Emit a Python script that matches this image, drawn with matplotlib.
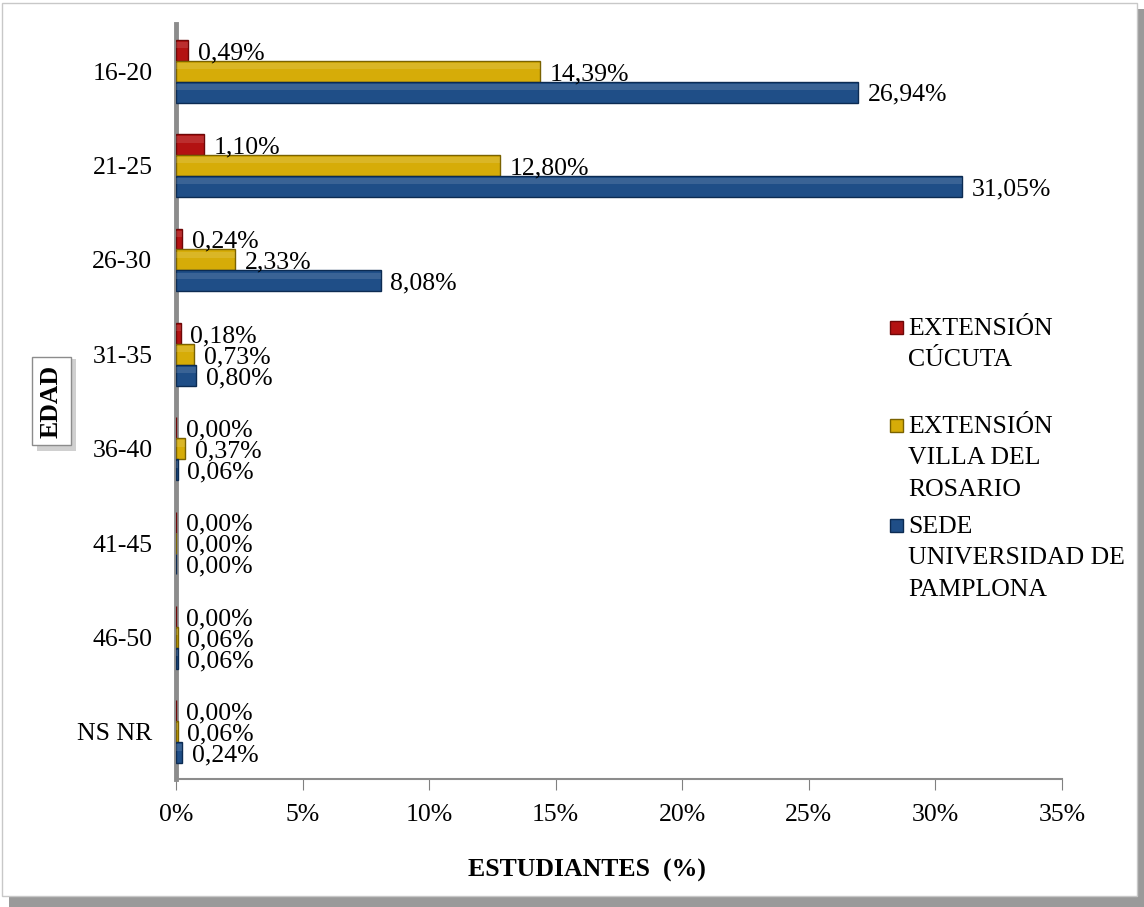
import numpy as np
import matplotlib
matplotlib.use("Agg")
import matplotlib.pyplot as plt
from matplotlib.patches import Rectangle

plt.rcParams['font.family'] = ['Liberation Serif', 'DejaVu Serif']

edades = ["16-20", "21-25", "26-30", "31-35", "36-40", "41-45", "46-50", "NS NR"]
cucuta = [0.49, 1.10, 0.24, 0.18, 0.00, 0.00, 0.00, 0.00]
villa = [14.39, 12.80, 2.33, 0.73, 0.37, 0.00, 0.06, 0.06]
pamplona = [26.94, 31.05, 8.08, 0.80, 0.06, 0.00, 0.06, 0.24]

series = [
    ("EXTENSIÓN\nCÚCUTA", cucuta, "#B31212", "#6E0808"),
    ("EXTENSIÓN\nVILLA DEL\nROSARIO", villa, "#D6AC08", "#7A6200"),
    ("SEDE\nUNIVERSIDAD DE\nPAMPLONA", pamplona, "#1F4E87", "#0C2B52"),
]

FS = 18.5
W, H = 1144, 907

fig = plt.figure(figsize=(W / 100, H / 100), dpi=100)

# outer frame with shadow
fig.patches.append(Rectangle((0.008, 0.0), 0.995, 0.99, transform=fig.transFigure,
                             facecolor="#9a9a9a", edgecolor="none", zorder=-3))
fig.patches.append(Rectangle((0.002, 0.012), 0.992, 0.985, transform=fig.transFigure,
                             facecolor="white", edgecolor="#c8c8c8", lw=1, zorder=-2))

ax = fig.add_axes([176 / W, 1 - 779 / H, (1062 - 176) / W, (779 - 24) / H])

y = np.arange(len(edades))
h = 0.222
offs = [-h, 0, h]
for (name, vals, col, edge), off in zip(series, offs):
    bars = ax.barh(y + off, vals, height=h, color=col, edgecolor=edge, lw=1.0, zorder=3)
    # soft bevel highlight
    ax.barh(y + off - h * 0.25, vals, height=h * 0.3, color="white", alpha=0.12,
            lw=0, zorder=4)
    for b, v in zip(bars, vals):
        ax.annotate(f"{v:.2f}%".replace(".", ","), (v, b.get_y() + h / 2),
                    xytext=(7, -2), textcoords="offset points",
                    va="center", ha="left", fontsize=FS, zorder=5)

ax.set_ylim(len(edades) - 0.5, -0.5)
ax.set_xlim(0, 35)
ax.set_xticks(np.arange(0, 36, 5))
ax.set_xticklabels([f"{t}%" for t in range(0, 36, 5)], fontsize=FS)
ax.set_yticks(y)
ax.set_yticklabels(edades, fontsize=FS)
ax.tick_params(axis="y", length=0, pad=17)
ax.tick_params(axis="x", length=8, color="#808080", pad=10)

for s in ["top", "right"]:
    ax.spines[s].set_visible(False)
ax.spines["left"].set_color("#8c8c8c")
ax.spines["left"].set_linewidth(3.5)
ax.spines["bottom"].set_color("#8c8c8c")
ax.spines["bottom"].set_linewidth(1.5)

fig.text(587 / W, 1 - 870 / H, "ESTUDIANTES  (%)", ha="center", va="center",
         fontsize=FS, fontweight="bold")
# shadow behind the EDAD box
fig.patches.append(Rectangle((37 / W, 1 - 451 / H), 39 / W, 92 / H,
                             transform=fig.transFigure, facecolor="#d0d0d0",
                             edgecolor="none", zorder=1))
fig.text(51.5 / W, 1 - 401 / H, "EDAD", rotation=90, ha="center", va="center",
         fontsize=FS, fontweight="bold", zorder=2,
         bbox=dict(boxstyle="square,pad=0.3", facecolor="white", edgecolor="#8c8c8c"))

# legend drawn by hand
leg_tops = [327, 425, 525]
for (name, vals, col, edge), yt in zip(series, leg_tops):
    fig.patches.append(Rectangle((890 / W, 1 - (yt + 7) / H), 13 / W, 13 / H,
                                 transform=fig.transFigure, facecolor=col,
                                 edgecolor=edge, lw=1))
    fig.text(908 / W, 1 - (yt - 9) / H, name, ha="left", va="top",
             fontsize=FS, linespacing=1.55, transform=fig.transFigure)

fig.savefig("out.png", dpi=100)
